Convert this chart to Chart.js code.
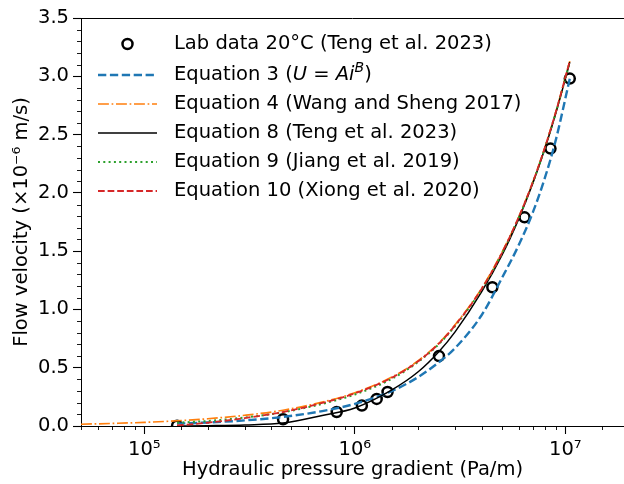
<!DOCTYPE html>
<html>
<head>
<meta charset="utf-8">
<script src="https://cdn.jsdelivr.net/npm/chart.js@4.4.1/dist/chart.umd.min.js"></script>
<style>
  html, body { margin: 0; padding: 0; background: #fff; overflow: hidden; }
  canvas { display: block; }
</style>
</head>
<body>
<canvas id="chart" width="624" height="484"></canvas>
<script>
// lab measurements (Pa/m, x1e-6 m/s)
const gradLab = [1.43e5, 4.56e5, 8.2e5, 1.08e6, 1.27e6, 1.43e6, 2.51e6, 4.5e6, 6.4e6, 8.5e6, 1.05e7];
const velLab = [0.003, 0.058, 0.12, 0.175, 0.232, 0.292, 0.6, 1.19, 1.79, 2.38, 2.98];

// fitted curves
const gradEq = [1.43e5, 2e5, 3e5, 4.56e5, 7e5, 1e6, 1.5e6, 2e6, 2.5e6, 3e6, 4e6, 5e6, 6e6, 7e6, 8e6, 9e6, 1.05e7];
const velEq3 = [0.02, 0.03, 0.048, 0.078, 0.128, 0.19, 0.3, 0.42, 0.545, 0.67, 0.95, 1.27, 1.55, 1.83, 2.13, 2.45, 2.98];
const velEq8 = [0.0, 0.003, 0.009, 0.025, 0.09, 0.155, 0.31, 0.465, 0.635, 0.81, 1.15, 1.465, 1.775, 2.08, 2.38, 2.68, 3.12];
const velEq9 = [0.028, 0.043, 0.073, 0.118, 0.19, 0.27, 0.405, 0.55, 0.7, 0.86, 1.17, 1.48, 1.785, 2.085, 2.385, 2.685, 3.12];
const velEq10 = [0.005, 0.028, 0.068, 0.12, 0.198, 0.28, 0.415, 0.555, 0.705, 0.865, 1.175, 1.485, 1.79, 2.09, 2.39, 2.69, 3.13];

// eq 4 runs from the left edge
const gradEq4 = [5e4, 7e4, 1e5, 1.43e5, 2e5, 3e5, 4.56e5, 7e5, 1e6, 1.5e6, 2e6, 2.5e6, 3e6, 4e6, 5e6, 6e6, 7e6, 8e6, 9e6, 1.05e7];
const velEq4 = [0.015, 0.022, 0.031, 0.045, 0.062, 0.092, 0.135, 0.205, 0.285, 0.42, 0.56, 0.71, 0.87, 1.18, 1.49, 1.79, 2.09, 2.39, 2.69, 3.13];

const FONT = "DejaVu Sans";
const FS = 19.5;
const SUP = { 5: "\u2075", 6: "\u2076", 7: "\u2077" };

function pts(xs, ys) {
  return xs.map((x, i) => ({ x: x, y: ys[i] }));
}

function curve(label, xs, ys, color, width, dash, order) {
  return {
    label, data: pts(xs, ys), showLine: true, borderColor: color, borderWidth: width,
    borderDash: dash, pointRadius: 0, pointHoverRadius: 0, fill: false,
    cubicInterpolationMode: "monotone", order
  };
}

const isPow10 = v => Math.abs(Math.log10(v) - Math.round(Math.log10(v))) < 1e-9;
const isHalf = v => Math.abs(v * 2 - Math.round(v * 2)) < 1e-6;

// minor ticks, top spine and the matplotlib-like legend
const extras = {
  id: "extras",
  afterDraw(chart) {
    const ctx = chart.ctx;
    const a = chart.chartArea;
    const xs = chart.scales.x, ys = chart.scales.y;
    ctx.save();
    ctx.strokeStyle = "#000";
    ctx.lineWidth = 1;
    ctx.beginPath();
    ctx.moveTo(a.left, a.top + 0.5);
    ctx.lineTo(a.right, a.top + 0.5);
    ctx.stroke();
    ctx.lineWidth = 0.9;
    ctx.beginPath();
    xs.ticks.forEach(t => {
      if (isPow10(t.value)) return;
      const px = Math.round(xs.getPixelForValue(t.value)) + 0.5;
      ctx.moveTo(px, a.bottom);
      ctx.lineTo(px, a.bottom + 4);
    });
    ys.ticks.forEach(t => {
      if (isHalf(t.value)) return;
      const py = Math.round(ys.getPixelForValue(t.value)) + 0.5;
      ctx.moveTo(a.left, py);
      ctx.lineTo(a.left - 4, py);
    });
    ctx.stroke();

    // legend
    const rows = [44, 75, 104, 133, 162, 191];
    const x0 = 98, x1 = 157, tx = 174;
    ctx.font = FS + "px '" + FONT + "'";
    ctx.textBaseline = "middle";
    ctx.fillStyle = "#000";
    chart.data.datasets.forEach((ds, i) => {
      const y = rows[i];
      if (ds.showLine) {
        ctx.strokeStyle = ds.borderColor;
        ctx.lineWidth = ds.borderWidth;
        ctx.setLineDash(ds.borderDash || []);
        ctx.beginPath();
        ctx.moveTo(x0, y);
        ctx.lineTo(x1, y);
        ctx.stroke();
        ctx.setLineDash([]);
      } else {
        ctx.strokeStyle = ds.pointBorderColor;
        ctx.lineWidth = ds.pointBorderWidth;
        ctx.beginPath();
        ctx.arc((x0 + x1) / 2, y, ds.pointRadius, 0, Math.PI * 2);
        ctx.stroke();
      }
      if (ds.legendParts) {
        let x = tx;
        ds.legendParts.forEach(p => {
          const size = p.sup ? 14 : FS;
          ctx.font = (p.it ? "italic " : "") + size + "px '" + FONT + "'";
          ctx.fillText(p.t, x, y - (p.sup ? 7 : 0));
          x += ctx.measureText(p.t).width;
        });
        ctx.font = FS + "px '" + FONT + "'";
      } else {
        ctx.fillText(ds.label, tx, y);
      }
    });
    ctx.restore();
  }
};

const eq3 = curve("Equation 3 (U = Ai^B)", gradEq, velEq3, "#1f77b4", 2.4, [8.3, 3.6], 5);
eq3.legendParts = [
  { t: "Equation 3 (" }, { t: "U", it: true }, { t: " = " }, { t: "Ai", it: true },
  { t: "B", it: true, sup: true }, { t: ")" }
];

new Chart(document.getElementById("chart"), {
  type: "scatter",
  data: {
    datasets: [
      {
        label: "Lab data 20\u00b0C (Teng et al. 2023)", data: pts(gradLab, velLab),
        pointRadius: 5, pointBorderWidth: 2.5, pointBorderColor: "#000",
        pointBackgroundColor: "rgba(0,0,0,0)", pointHoverRadius: 5, showLine: false, order: 6
      },
      eq3,
      curve("Equation 4 (Wang and Sheng 2017)", gradEq4, velEq4, "#ff7f0e", 1.7, [10.9, 2.7, 1.7, 2.7], 4),
      curve("Equation 8 (Teng et al. 2023)", gradEq, velEq8, "#000000", 1.5, [], 3),
      curve("Equation 9 (Jiang et al. 2019)", gradEq, velEq9, "#2ca02c", 2, [2, 3.3], 2),
      curve("Equation 10 (Xiong et al. 2020)", gradEq, velEq10, "#d62728", 1.8, [6.7, 2.9], 1)
    ]
  },
  options: {
    responsive: false,
    animation: false,
    devicePixelRatio: 1,
    layout: { autoPadding: false, padding: { top: 18, right: 0, left: 0, bottom: 0 } },
    plugins: { legend: { display: false }, tooltip: { enabled: false } },
    scales: {
      x: {
        type: "logarithmic",
        min: 5e4,
        max: 1.9e7,
        afterFit: s => { s.height = 58; s.paddingLeft = 0; s.paddingRight = 0; },
        grid: {
          drawOnChartArea: false, tickLength: 8, tickWidth: 1.1,
          tickColor: c => (c.tick && isPow10(c.tick.value)) ? "#000" : "rgba(0,0,0,0)"
        },
        border: { color: "#000", width: 1 },
        ticks: {
          autoSkip: false, maxRotation: 0, padding: 4, color: "#000",
          font: { family: FONT, size: FS },
          callback: v => isPow10(v) ? "10" + SUP[Math.round(Math.log10(v))] : ""
        },
        title: {
          display: true, text: "Hydraulic pressure gradient (Pa/m)", color: "#000",
          font: { family: FONT, size: FS }, padding: { top: 0, bottom: 2 }
        }
      },
      y: {
        min: 0,
        max: 3.5,
        afterFit: s => { s.width = 81; s.paddingTop = 0; s.paddingBottom = 0; },
        grid: {
          drawOnChartArea: false, tickLength: 8, tickWidth: 1.1,
          tickColor: c => (c.tick && isHalf(c.tick.value)) ? "#000" : "rgba(0,0,0,0)"
        },
        border: { color: "#000", width: 1 },
        ticks: {
          stepSize: 0.1, autoSkip: false, padding: 4, color: "#000",
          font: { family: FONT, size: FS },
          callback: v => isHalf(v) ? v.toFixed(1) : ""
        },
        title: {
          display: true, text: "Flow velocity (\u00d710\u207b\u2076 m/s)", color: "#000",
          font: { family: FONT, size: FS }, padding: { top: 10, bottom: 0 }
        }
      }
    }
  },
  plugins: [extras]
});
</script>
</body>
</html>
